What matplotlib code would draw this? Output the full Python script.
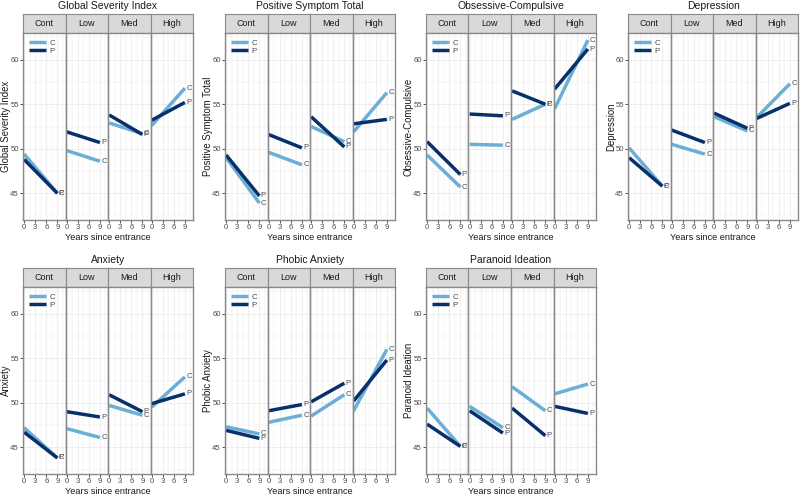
import matplotlib
matplotlib.use("Agg")
import matplotlib.pyplot as plt
from matplotlib.ticker import MultipleLocator

plt.rcParams["font.family"] = ["Liberation Sans", "DejaVu Sans"]

# ---- data (T-scores at entrance and 9 years later) ----
groups = ["Cont", "Low", "Med", "High"]
years = [0, 9]
titles = ["Global Severity Index", "Positive Symptom Total", "Obsessive-Compulsive",
          "Depression", "Anxiety", "Phobic Anxiety", "Paranoid Ideation"]

gsi_c = [(49.4, 45.0), (49.8, 48.6), (52.9, 51.7), (52.6, 56.8)]
gsi_p = [(48.8, 45.0), (51.9, 50.7), (53.8, 51.6), (53.2, 55.2)]
pst_c = [(49.0, 43.9), (49.6, 48.2), (52.5, 50.8), (51.9, 56.3)]
pst_p = [(49.3, 44.7), (51.6, 50.1), (53.6, 50.2), (52.8, 53.3)]
oc_c = [(49.3, 45.7), (50.5, 50.4), (53.3, 55.0), (54.5, 62.2)]
oc_p = [(50.8, 47.1), (53.9, 53.7), (56.5, 55.0), (56.7, 61.2)]
dep_c = [(50.1, 45.8), (50.5, 49.4), (53.6, 52.0), (53.5, 57.3)]
dep_p = [(49.0, 45.8), (52.1, 50.7), (54.0, 52.3), (53.4, 55.1)]
anx_c = [(47.2, 43.8), (47.1, 46.1), (49.7, 48.6), (49.5, 52.9)]
anx_p = [(46.7, 43.8), (49.0, 48.4), (50.9, 49.0), (49.9, 51.0)]
pho_c = [(47.3, 46.5), (47.8, 48.6), (48.5, 50.9), (49.1, 56.0)]
pho_p = [(46.9, 46.0), (49.1, 49.8), (50.1, 52.2), (50.2, 54.8)]
par_c = [(49.4, 45.1), (49.6, 47.2), (51.8, 49.1), (51.0, 52.1)]
par_p = [(47.6, 45.1), (49.1, 46.6), (49.4, 46.3), (49.6, 48.8)]

series = [(gsi_c, gsi_p), (pst_c, pst_p), (oc_c, oc_p), (dep_c, dep_p),
          (anx_c, anx_p), (pho_c, pho_p), (par_c, par_p)]

C_COL = "#6baed6"
P_COL = "#08306b"
BORDER = "#8a8a8a"
GRID = "#ebebeb"
TXT = "#1a1a1a"

W, H = 800, 496
fig = plt.figure(figsize=(8, 4.96), dpi=100)
fig.patch.set_facecolor("white")


def box(x0, y0, x1, y1):
    # pixel box (top-left origin) -> figure fraction rect
    return [x0 / W, 1 - y1 / H, (x1 - x0) / W, (y1 - y0) / H]


col_left = [23, 225, 426, 628]
panel_w = 170
row_top = [33, 287]
plot_h = 187
strip_h = 19

for k, (title, (cvals, pvals)) in enumerate(zip(titles, series)):
    r, c = divmod(k, 4)
    left = col_left[c]
    top = row_top[r]
    fw = panel_w / 4
    fig.text((left + panel_w / 2) / W, 1 - (top - strip_h - 8) / H, title,
             ha="center", va="center", fontsize=7.5, color=TXT)
    fig.text((left - 17) / W, 1 - (top + plot_h / 2) / H, title, rotation=90,
             ha="center", va="center", fontsize=6.9, color=TXT)
    xl_y = min(top + plot_h + 18, H - 5)
    fig.text((left + panel_w / 2) / W, 1 - xl_y / H, "Years since entrance",
             ha="center", va="center", fontsize=6.6, color=TXT)
    for j, g in enumerate(groups):
        x0 = left + j * fw
        sax = fig.add_axes(box(x0, top - strip_h, x0 + fw, top))
        sax.set_facecolor("#d9d9d9")
        sax.set_xticks([])
        sax.set_yticks([])
        for s in sax.spines.values():
            s.set_color(BORDER)
            s.set_linewidth(0.8)
        sax.text(0.5, 0.5, g, ha="center", va="center", fontsize=6.5,
                 color=TXT, transform=sax.transAxes)

        ax = fig.add_axes(box(x0, top, x0 + fw, top + plot_h))
        ax.set_xlim(-0.3, 11.2)
        ax.set_ylim(42, 63)
        ax.xaxis.set_major_locator(MultipleLocator(3))
        ax.xaxis.set_minor_locator(MultipleLocator(1.5))
        ax.yaxis.set_major_locator(MultipleLocator(5))
        ax.yaxis.set_minor_locator(MultipleLocator(2.5))
        ax.grid(which="major", color=GRID, lw=0.6)
        ax.grid(which="minor", color=GRID, lw=0.35)
        ax.set_axisbelow(True)
        ax.set_xticks([0, 3, 6, 9])
        ax.tick_params(axis="both", which="major", length=2, width=0.6,
                       color="#333333", labelsize=5.6, labelcolor="#4d4d4d", pad=1)
        ax.tick_params(which="minor", length=0)
        if j == 0:
            ax.set_yticks([45, 50, 55, 60])
        else:
            ax.tick_params(axis="y", which="both", left=False, labelleft=False)
        for s in ax.spines.values():
            s.set_color(BORDER)
            s.set_linewidth(1.0)

        cy = cvals[j]
        py = pvals[j]
        ax.plot(years, cy, color=C_COL, lw=2.5, solid_capstyle="butt", label="C")
        ax.plot(years, py, color=P_COL, lw=2.5, solid_capstyle="butt", label="P")
        ax.text(years[1] + 0.4, cy[1], "C", fontsize=5.6, color="#4d4d4d",
                ha="left", va="center")
        ax.text(years[1] + 0.4, py[1], "P", fontsize=5.6, color="#4d4d4d",
                ha="left", va="center")
        if j == 0:
            ax.legend(loc="upper left", frameon=False, fontsize=5.8, handlelength=2.0,
                      handletextpad=0.5, labelspacing=0.05, borderaxespad=0.4,
                      labelcolor="#4d4d4d")

fig.savefig("out.png", dpi=100, facecolor="white")
